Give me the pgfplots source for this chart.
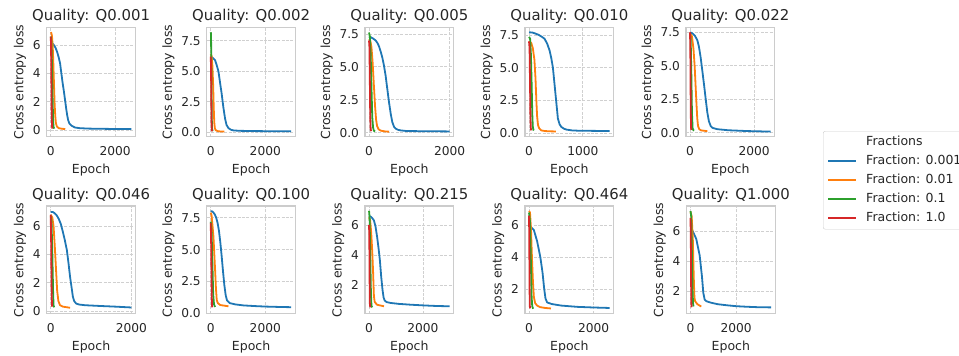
\documentclass[border=0pt]{standalone}
\usepackage{fontspec}
\setmainfont{DejaVu Sans}
\usepackage{pgfplots}
\pgfplotsset{compat=1.18}
\definecolor{textc}{HTML}{262626}
\definecolor{axisc}{HTML}{CCCCCC}
\definecolor{gridc}{HTML}{D0D0D0}
\definecolor{cB}{HTML}{1F77B4}
\definecolor{cO}{HTML}{FF7F0E}
\definecolor{cG}{HTML}{2CA02C}
\definecolor{cR}{HTML}{D62728}
\newcommand{\titlesize}{\fontsize{14.9}{17}\selectfont}
\newcommand{\labelsize}{\fontsize{12.5}{15}\selectfont}
\newcommand{\ticksize}{\fontsize{12.2}{14}\selectfont}
\pgfplotsset{
  every axis title shift=0pt,
  panel/.style={
    scale only axis, width=88.7pt,
    anchor=south west,
    axis line style={draw=axisc, line width=1.1pt},
    grid=major,
    major grid style={dash pattern=on 3pt off 1.4pt, draw=gridc, line width=0.7pt},
    major tick length=0pt, tick style={draw=none},
    ticklabel style={font=\ticksize, text=textc},
    xticklabel style={yshift=-6pt},
    yticklabel style={xshift=-2.5pt},
    label style={font=\labelsize, text=textc},
    title style={font=\titlesize, text=textc, anchor=base, at={(0.5,1)}, yshift=6.4pt},
    xlabel={Epoch}, ylabel={Cross entropy loss},
    xlabel style={yshift=-1.5pt},
    /pgf/number format/assume math mode=true,
    /pgf/number format/1000 sep={},
    xtick={0,2000},
    every axis plot/.append style={line width=1.8pt, line join=round, no marks},
  },
  row1/.style={height=109.4pt},
  row2/.style={height=107.7pt},
  inty/.style={ytick={0,2,4,6}},
  inty2/.style={ytick={2,4,6}},
  decy/.style={ytick={0,2.5,5,7.5}, yticklabel style={/pgf/number format/.cd, fixed, fixed zerofill, precision=1}},
}
\begin{document}
\begin{tikzpicture}[x=1pt,y=1pt]
% ---------- Row 1 ----------
\begin{axis}[panel,row1,inty,at={(46.7pt,219.3pt)},title={Quality: Q0.001},
  xmin=-125,xmax=2625,ymin=-0.47,ymax=7.25]
\addplot[cB] coordinates {(0,6.2)(80,6.05)(150,5.8)(200,5.5)(250,5.1)(290,4.7)(330,4.0)(370,3.3)(410,2.7)(445,2.1)(480,1.5)(510,1.05)(540,0.7)(580,0.45)(650,0.3)(750,0.18)(900,0.13)(1200,0.1)(1800,0.08)(2500,0.07)};
\addplot[cO] coordinates {(0,6.9)(20,6.85)(40,6.6)(60,6.0)(80,4.8)(100,3.3)(120,1.9)(140,1.0)(160,0.5)(190,0.25)(250,0.13)(350,0.09)(450,0.07)};
\addplot[cG] coordinates {(0,6.6)(20,6.3)(40,4.5)(60,2.0)(75,0.6)(90,0.2)(110,0.1)};
\addplot[cR] coordinates {(0,6.6)(10,6.0)(20,3.5)(30,1.0)(40,0.25)(50,0.1)};
\end{axis}
\begin{axis}[panel,row1,decy,at={(206.7pt,219.3pt)},title={Quality: Q0.002},
  xmin=-148,xmax=3105,ymin=-0.36,ymax=8.61]
\addplot[cB] coordinates {(0,6.2)(40,6.15)(100,6.05)(160,5.9)(220,5.5)(282,5.0)(340,4.1)(405,3.1)(460,2.1)(500,1.5)(528,1.1)(580,0.6)(650,0.34)(750,0.2)(850,0.15)(1100,0.12)(1600,0.1)(2200,0.09)(2950,0.08)};
\addplot[cO] coordinates {(0,6.4)(30,6.3)(60,5.5)(90,3.8)(110,2.0)(130,0.8)(150,0.35)(180,0.18)(250,0.1)(350,0.07)(500,0.06)};
\addplot[cG] coordinates {(0,8.2)(10,8.1)(20,6.0)(30,3.0)(40,1.0)(50,0.3)(70,0.1)};
\addplot[cR] coordinates {(0,6.2)(10,5.5)(20,3.0)(30,0.8)(40,0.2)(50,0.08)};
\end{axis}
\begin{axis}[panel,row1,decy,at={(365pt,219.3pt)},title={Quality: Q0.005},
  xmin=-100,xmax=2100,ymin=-0.3,ymax=8.0]
\addplot[cB] coordinates {(0,7.3)(41,7.25)(100,7.15)(165,7.0)(210,6.8)(248,6.55)(290,6.15)(330,5.7)(370,5.1)(413,4.3)(450,3.4)(496,2.3)(540,1.4)(578,0.8)(620,0.45)(661,0.31)(720,0.22)(785,0.18)(900,0.14)(1200,0.12)(1600,0.11)(2000,0.1)};
\addplot[cO] coordinates {(0,7.1)(30,7.0)(60,6.5)(90,5.3)(120,3.6)(150,2.0)(175,1.0)(200,0.5)(240,0.25)(300,0.15)(400,0.1)(500,0.08)};
\addplot[cG] coordinates {(0,7.6)(20,7.3)(40,6.0)(60,3.5)(80,1.2)(100,0.4)(120,0.15)(150,0.1)};
\addplot[cR] coordinates {(0,7.0)(10,6.5)(20,4.0)(30,1.2)(40,0.3)(50,0.12)};
\end{axis}
\begin{axis}[panel,row1,decy,at={(525pt,219.3pt)},title={Quality: Q0.010},
  xtick={0,1000},xmin=-75,xmax=1575,ymin=-0.28,ymax=8.08]
\addplot[cB] coordinates {(0,7.7)(60,7.68)(120,7.6)(180,7.5)(240,7.35)(290,7.2)(340,6.8)(383,6.3)(415,5.7)(444,5.0)(475,3.7)(506,2.4)(537,1.1)(570,0.65)(600,0.47)(650,0.33)(700,0.26)(800,0.2)(907,0.18)(1100,0.17)(1300,0.16)(1500,0.16)};
\addplot[cO] coordinates {(0,7.0)(40,6.9)(70,6.5)(100,5.6)(120,4.2)(136,2.5)(150,1.3)(167,0.6)(190,0.35)(228,0.2)(300,0.15)(400,0.13)(500,0.12)};
\addplot[cG] coordinates {(0,7.35)(20,7.2)(35,6.0)(50,3.5)(60,1.5)(70,0.5)(80,0.25)(90,0.2)};
\addplot[cR] coordinates {(0,7.0)(10,6.5)(18,4.0)(25,1.5)(32,0.4)(40,0.2)};
\end{axis}
\begin{axis}[panel,row1,decy,at={(686pt,219.3pt)},title={Quality: Q0.022},
  xmin=-126,xmax=2646,ymin=-0.3,ymax=7.87,
  legend style={at={(axis description cs:1.545,0.052)}, anchor=north west,
    draw=axisc, fill=white, rounded corners=2pt, font=\labelsize, text=textc,
    inner xsep=4pt, inner ysep=2pt, row sep=0pt,
    nodes={inner sep=3.2pt, text height=9.5pt, text depth=2.9pt},
    /tikz/every odd column/.style={column sep=5.8pt}},
  legend cell align=left,
  legend image code/.code={\draw[#1, line width=2pt] (0pt,0pt) -- (28pt,0pt);}]
\addlegendimage{empty legend}
\addplot[cB] coordinates {(0,7.5)(70,7.42)(150,7.25)(229,6.9)(280,6.4)(333,5.6)(385,4.6)(437,3.6)(490,2.5)(541,1.5)(590,0.85)(645,0.5)(700,0.36)(853,0.26)(1200,0.18)(1800,0.12)(2520,0.08)};
\addplot[cO] coordinates {(0,7.4)(60,7.2)(110,6.2)(146,4.9)(170,3.7)(198,2.3)(225,1.1)(250,0.5)(290,0.25)(350,0.17)(450,0.14)(541,0.12)};
\addplot[cG] coordinates {(0,7.4)(20,7.0)(40,4.5)(60,1.5)(80,0.35)(100,0.2)(125,0.15)};
\addplot[cR] coordinates {(0,7.5)(10,6.0)(20,2.5)(30,0.4)(40,0.2)};
\legend{Fractions,Fraction: 0.001,Fraction: 0.01,Fraction: 0.1,Fraction: 1.0}
\end{axis}
% ---------- Row 2 ----------
\begin{axis}[panel,row2,inty,at={(46.7pt,42.3pt)},title={Quality: Q0.046},
  xmin=-100,xmax=2100,ymin=-0.2,ymax=7.42]
\addplot[cB] coordinates {(0,7.0)(50,7.0)(100,6.9)(150,6.75)(200,6.5)(250,6.15)(300,5.6)(350,5.0)(400,4.3)(440,3.4)(480,2.4)(520,1.6)(550,1.0)(580,0.7)(630,0.52)(700,0.45)(850,0.4)(1200,0.35)(1600,0.3)(2000,0.24)};
\addplot[cO] coordinates {(0,6.8)(40,6.6)(70,6.0)(100,4.6)(130,3.0)(160,1.4)(190,0.7)(230,0.4)(300,0.3)(480,0.22)};
\addplot[cG] coordinates {(0,6.7)(20,6.3)(40,4.0)(60,1.2)(70,0.4)(85,0.25)};
\addplot[cR] coordinates {(0,6.8)(10,5.0)(20,2.0)(30,0.4)(40,0.3)};
\end{axis}
\begin{axis}[panel,row2,decy,at={(206.7pt,42.3pt)},title={Quality: Q0.100},
  xmin=-148,xmax=3105,ymin=-0.03,ymax=8.42]
\addplot[cB] coordinates {(0,8.0)(50,8.0)(100,7.9)(150,7.75)(200,7.5)(250,7.1)(300,6.5)(350,5.6)(400,4.5)(450,3.3)(500,2.2)(550,1.4)(600,1.0)(700,0.8)(900,0.7)(1200,0.62)(1600,0.57)(2000,0.53)(2500,0.5)(2950,0.48)};
\addplot[cO] coordinates {(0,7.9)(30,7.7)(60,7.0)(100,6.0)(130,4.7)(160,3.4)(190,2.0)(220,1.05)(260,0.8)(350,0.65)(650,0.55)};
\addplot[cG] coordinates {(0,7.2)(30,6.5)(60,4.0)(90,1.5)(120,0.7)(160,0.5)};
\addplot[cR] coordinates {(0,7.1)(15,5.5)(30,2.5)(45,0.6)(60,0.47)};
\end{axis}
\begin{axis}[panel,row2,inty2,at={(365pt,42.3pt)},title={Quality: Q0.215},
  xmin=-150,xmax=3140,ymin=0.13,ymax=7.25]
\addplot[cB] coordinates {(0,6.6)(60,6.55)(120,6.45)(180,6.3)(240,5.9)(300,5.2)(350,4.5)(400,3.7)(450,2.6)(500,1.7)(540,1.2)(580,1.0)(650,0.9)(800,0.84)(1100,0.78)(1500,0.73)(2000,0.68)(2500,0.64)(2990,0.62)};
\addplot[cO] coordinates {(0,6.5)(40,6.3)(80,5.5)(120,4.2)(150,2.9)(180,1.3)(210,0.9)(300,0.72)(556,0.62)};
\addplot[cG] coordinates {(0,6.93)(20,6.5)(45,4.0)(70,1.5)(90,0.65)(120,0.55)};
\addplot[cR] coordinates {(0,6.0)(10,5.2)(20,2.5)(30,0.8)(45,0.55)};
\end{axis}
\begin{axis}[panel,row2,inty2,at={(525pt,42.3pt)},title={Quality: Q0.464},
  xmin=-125,xmax=2625,ymin=0.44,ymax=7.21]
\addplot[cB] coordinates {(0,6.1)(50,5.9)(150,5.7)(250,5.0)(350,4.0)(420,3.0)(470,2.0)(510,1.4)(560,1.15)(700,1.05)(1000,0.95)(1500,0.87)(2000,0.83)(2500,0.8)};
\addplot[cO] coordinates {(0,6.9)(30,6.8)(60,5.8)(90,4.0)(120,2.5)(150,1.5)(190,1.1)(250,0.95)(350,0.85)(500,0.8)(680,0.77)};
\addplot[cG] coordinates {(0,6.8)(30,6.2)(60,3.5)(80,1.5)(100,0.9)(125,0.75)};
\addplot[cR] coordinates {(0,6.6)(8,5.0)(15,2.5)(22,1.0)(30,0.78)};
\end{axis}
\begin{axis}[panel,row2,inty2,at={(686.5pt,42.3pt)},title={Quality: Q1.000},
  xmin=-177,xmax=3710,ymin=0.52,ymax=7.69]
\addplot[cB] coordinates {(0,6.2)(100,6.0)(250,5.5)(400,4.4)(500,3.0)(560,1.9)(620,1.45)(700,1.35)(900,1.25)(1200,1.15)(1600,1.08)(2000,1.02)(2500,0.98)(3000,0.95)(3533,0.94)};
\addplot[cO] coordinates {(0,7.3)(50,7.0)(100,5.5)(140,3.0)(170,1.6)(200,1.35)(300,1.15)(470,1.0)};
\addplot[cG] coordinates {(0,7.35)(30,7.0)(60,4.5)(90,2.0)(110,1.2)(130,1.0)};
\addplot[cR] coordinates {(0,6.9)(15,5.0)(30,1.5)(40,1.0)(50,0.95)};
\end{axis}
\pgfresetboundingbox
\path[use as bounding box] (0,0) rectangle (959,356);
\end{tikzpicture}
\end{document}
